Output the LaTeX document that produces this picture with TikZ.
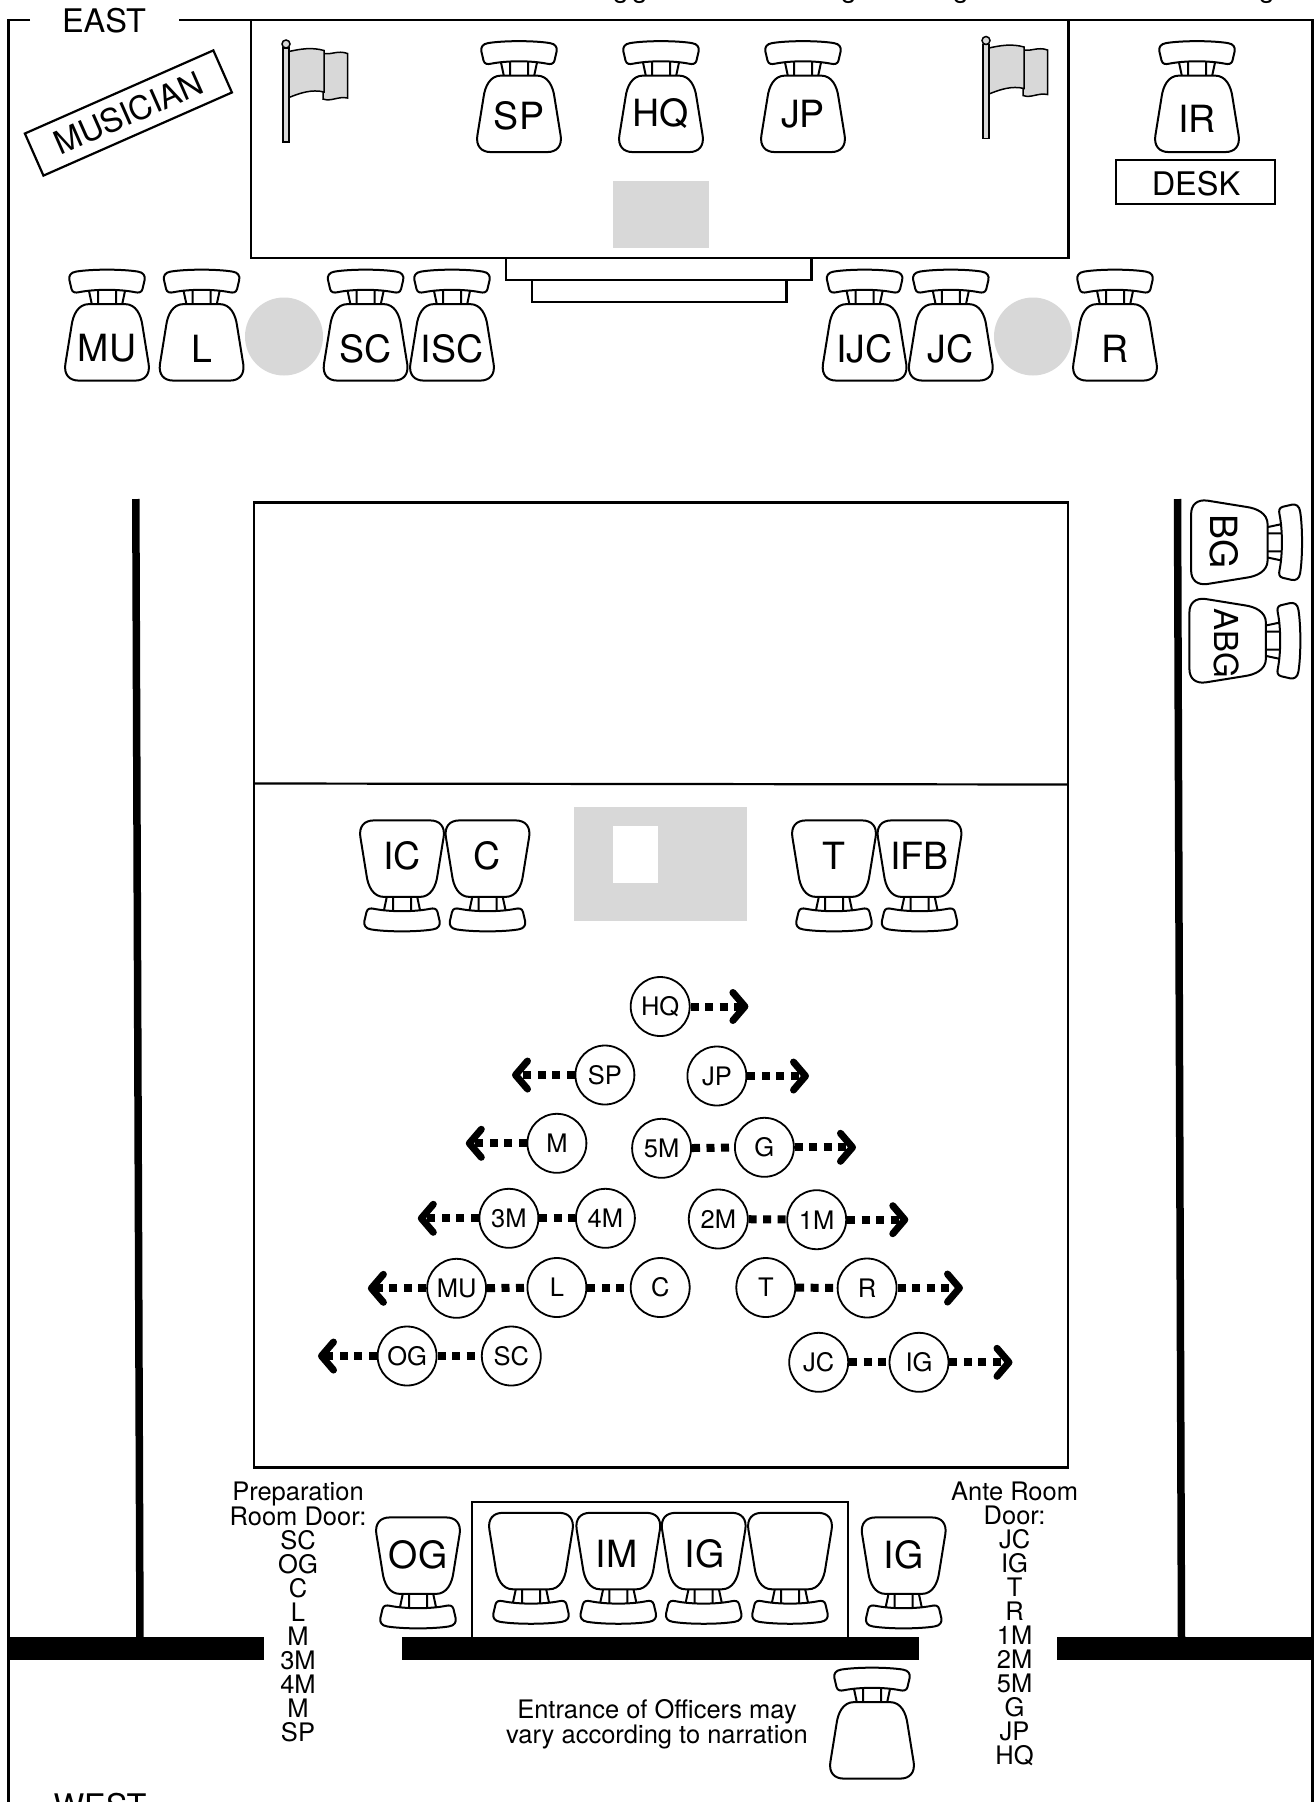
\documentclass[tikz,border=0pt]{standalone}
\usepackage{fontspec}
\setmainfont{TeX Gyre Heros}
\usetikzlibrary{arrows.meta}

\definecolor{floorgray}{HTML}{D8D8D8}

\tikzset{
  room/.style={line width=2.2pt},
  wall/.style={fill=black,draw=none},
  chairlabel/.style={inner sep=0pt,font=\fontsize{37.5}{38}\selectfont},
  signtext/.style={inner sep=0pt,font=\fontsize{32.5}{33}\selectfont},
  notetext/.style={inner sep=0pt,align=center,font=\fontsize{25.5}{24}\selectfont},
  officer/.style={circle,draw,line width=1.8pt,fill=white,minimum size=59pt,inner sep=0pt,
    font=\fontsize{25.5}{26}\selectfont},
  march/.style={line width=8pt,dash pattern=on 8pt off 6.5pt},
  marchout/.style={march,-{Straight Barb[length=12pt,width=28pt,line width=7pt,round]}},
  chair/.pic={
    % seat, struts and back, centre of the chair at the origin
    \draw[line width=2pt,fill=white,line join=round]
      (-18,-20.9) -- (18,-20.9) .. controls (29,-20.9) and (34,-10) .. (35.4,0.4)
      -- (41.7,39.4) .. controls (43,49.4) and (38,55.6) .. (28,55.6)
      -- (-28,55.6) .. controls (-38,55.6) and (-43,49.4) .. (-41.7,39.4)
      -- (-35.4,0.4) .. controls (-34,-10) and (-29,-20.9) .. (-18,-20.9) -- cycle;
    \draw[line width=2pt] (-18,-34) -- (-15.2,-20.9) (-9,-35) -- (-9,-20.9)
      (9,-35) -- (9,-20.9) (18,-34) -- (15.2,-20.9);
    \draw[line width=2pt,fill=white,line join=round]
      (-31,-53.4) .. controls (-15,-56) and (15,-56) .. (31,-53.4)
      .. controls (36.5,-52.6) and (38.5,-49) .. (37.6,-45) -- (35.5,-36)
      .. controls (34.6,-32.4) and (31.5,-32) .. (28,-32.8)
      .. controls (12,-36) and (-12,-36) .. (-28,-32.8)
      .. controls (-31.5,-32) and (-34.6,-32.4) .. (-35.5,-36)
      -- (-37.6,-45) .. controls (-38.5,-49) and (-36.5,-52.6) .. (-31,-53.4) -- cycle;
  },
  flag/.pic={
    \draw[line width=1.5pt,fill=floorgray] (-3,4) rectangle (3,98);
    \draw[line width=1.5pt,fill=floorgray] (0,0) circle (4);
    \draw[line width=1.5pt,fill=floorgray] (38,9.5) .. controls (45,11) and (52,6) .. (61.5,9.5)
      -- (61.5,54) .. controls (52,52) and (45,58) .. (37,55) -- cycle;
    \draw[line width=1.5pt,fill=floorgray] (3,7.5) .. controls (14,5) and (26,3) .. (38,6.5)
      -- (38,48) .. controls (26,45) and (14,49) .. (3,53.5) -- cycle;
  },
}

\begin{document}
\begin{tikzpicture}[x=1pt,y=-1pt]
  \fill[white] (0,0) rectangle (1314,1802);
  \useasboundingbox (0,0) rectangle (1314,1802);

  % outer frame, open at the top for EAST
  \draw[room] (30,20) -- (8.5,20) -- (8.5,1802);
  \draw[room] (179,20) -- (1312.5,20) -- (1312.5,1802);
  \node[signtext] (east) at (104,20.5) {EAST};
  \node[signtext] (west) at (100,1805.5) {WEST};

  % what is left of the line above the frame
  \foreach \gx/\gname in {621/a,640/b,849/c,961/d,1267/e}
    \node[anchor=base,inner sep=0pt,font=\fontsize{28}{28}\selectfont] (cut\gname) at (\gx,-3) {g};

  % dais and steps
  \draw[room] (251,20) rectangle (1068.5,258);
  \draw[room] (506,258) -- (506,280) -- (811.5,280) -- (811.5,258);
  \draw[room] (532,280) -- (532,302) -- (786.5,302) -- (786.5,280);
  \fill[floorgray] (613,181) rectangle (709,248);
  \pic at (286,44) {flag};
  \pic at (986,40.5) {flag};

  \foreach \cx/\ctext/\cy in {519/SP/116,661/HQ/114,803/JP/114,1197/IR/119}{
    \pic at (\cx,96.5) {chair};
    \node[chairlabel] (chair\ctext) at (\cx,\cy) {\ctext};
  }
  \draw[room] (1116,160) rectangle (1275,204);
  \node[signtext] (desk) at (1196,184) {DESK};
  \node[signtext,draw,line width=2.2pt,rotate=23.8,minimum width=206pt,minimum height=46pt]
    (musician) at (128.4,113) {MUSICIAN};

  % row below the dais
  \foreach \cx/\ctext in {107/MU,201.6/L,365.6/SC,452/ISC,864.6/IJC,950.8/JC,1115/R}{
    \pic at (\cx,325) {chair};
    \node[chairlabel] (row\ctext) at (\cx,348.5) {\ctext};
  }
  \fill[floorgray] (284,336.5) circle (39);
  \fill[floorgray] (1033,336.5) circle (39);

  % lodge floor
  \draw[room] (254,502.5) rectangle (1068,1467.5);
  \draw[room] (254,783.5) -- (1068,784.5);
  \fill[floorgray] (574,806.7) rectangle (747.3,921);
  \fill[white] (612.7,825.7) rectangle (657.5,883);
  \foreach \cx/\ctext in {402/IC,487.5/C,834/T,919.5/IFB}{
    \pic[rotate=180] at (\cx,876) {chair};
    \node[chairlabel] (floor\ctext) at (\cx,856) {\ctext};
  }

  % side wall chairs
  \pic[rotate=-90] at (1246.7,542.3) {chair};
  \node[chairlabel,rotate=-90] (chairBG) at (1224,542) {BG};
  \pic[rotate=-90] at (1245,640.7) {chair};
  \node[chairlabel,rotate=-90,font=\fontsize{33}{33}\selectfont] (chairABG) at (1227,643) {ABG};

  % walls
  \draw[line width=7.5pt] (135.8,499) -- (140,1640);
  \draw[line width=7.5pt] (1177.5,499) -- (1181.5,1640);
  \fill[wall] (8,1636.7) rectangle (264.3,1660);
  \fill[wall] (402,1636.7) rectangle (919,1660);
  \fill[wall] (1056.7,1636.7) rectangle (1312,1660);

  % entrance
  \draw[room] (472,1637) -- (472,1501.7) -- (848,1501.7) -- (848,1637);
  \foreach \cx in {531,618.3,703.7,790}
    \pic[rotate=180] at (\cx,1568.4) {chair};
  \node[chairlabel] (inIM) at (616.5,1554) {IM};
  \node[chairlabel] (inIG) at (704.5,1554) {IG};
  \foreach \cx/\ctext in {418/OG,903.7/IG}{
    \pic[rotate=180] at (\cx,1573) {chair};
    \node[chairlabel] (out\ctext) at (\cx,1555) {\ctext};
  }
  \pic at (872,1723) {chair};
  \node[notetext] (entrance) at (657,1724) {Entrance of Officers may\\vary according to narration};
  \node[notetext,anchor=north] (prepdoor) at (298,1481.5)
    {Preparation\\Room Door:\\SC\\OG\\C\\L\\M\\3M\\4M\\M\\SP};
  \node[notetext,anchor=north] (antedoor) at (1014.6,1481.5)
    {Ante Room\\Door:\\JC\\IG\\T\\R\\1M\\2M\\5M\\G\\JP\\HQ};

  % officers in procession
  \foreach \ox/\oy/\oname in {660.2/1006.5/HQ,604.9/1075/SP,716.9/1076/JP,556.9/1143.3/M,
      661.6/1148.3/5M,764.4/1147.3/G,508.9/1218.3/3M,605.4/1218.3/4M,718.3/1219/2M,
      816.7/1219.7/1M,456.6/1288.3/MU,556.9/1287.5/L,660.2/1287.5/C,765.8/1287.5/T,
      867.1/1288/R,407.1/1356/OG,511.3/1356/SC,818.7/1362.3/JC,919/1362.3/IG}
    \node[officer] (\oname) at (\ox,\oy) {\oname};

  \coordinate (endHQ) at (748.4,1006.5);
  \coordinate (endSP) at (512,1075);
  \coordinate (endJP) at (809,1076);
  \coordinate (endM) at (465.8,1143.3);
  \coordinate (endG) at (856,1147.3);
  \coordinate (end3M) at (417.8,1218.3);
  \coordinate (end1M) at (908.3,1219.7);
  \coordinate (endMU) at (367.9,1288.3);
  \coordinate (endR) at (963,1288);
  \coordinate (endOG) at (318,1356);
  \coordinate (endIG) at (1012.5,1362.3);

  \foreach \ofrom/\oto in {5M/G,3M/4M,2M/1M,MU/L,L/C,T/R,OG/SC,JC/IG}
    \draw[march] (\ofrom) -- (\oto);
  \foreach \ofrom in {HQ,SP,JP,M,G,3M,1M,MU,R,OG,IG}
    \draw[marchout] (\ofrom) -- (end\ofrom);
\end{tikzpicture}
\end{document}
